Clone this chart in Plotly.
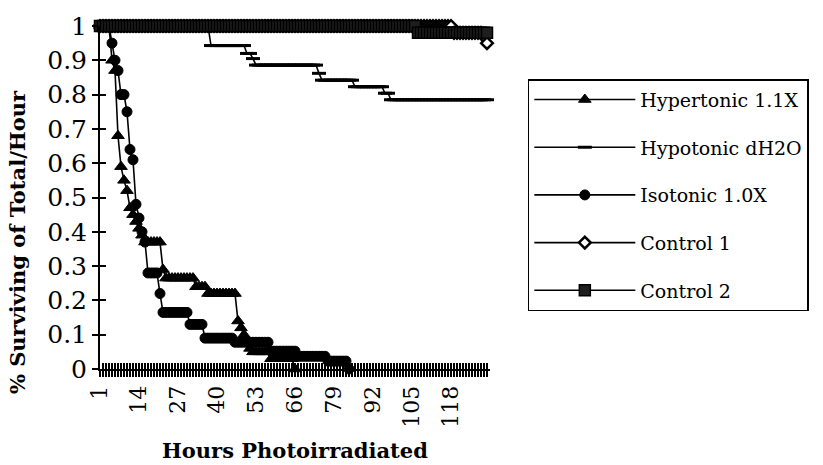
import plotly.graph_objects as go

# ---------------- data ----------------
hours = list(range(1, 131))
x_tick_labels = ["1", "14", "27", "40", "53", "66", "79", "92", "105", "118"]
y_tick_values = [0, 0.1, 0.2, 0.3, 0.4, 0.5, 0.6, 0.7, 0.8, 0.9, 1.0]

hypertonic = [
    1.0, 1.0, 1.0, 1.0, 0.90, 0.87, 0.68, 0.59, 0.55, 0.52,
    0.47, 0.45, 0.43, 0.41, 0.39, 0.37, 0.37, 0.37, 0.37, 0.37,
    0.37, 0.29, 0.265, 0.265, 0.265, 0.265, 0.265, 0.265, 0.265, 0.265,
    0.265, 0.265, 0.24, 0.24, 0.24, 0.24, 0.22, 0.22, 0.22, 0.22,
    0.22, 0.22, 0.22, 0.22, 0.22, 0.22, 0.14, 0.12, 0.10, 0.08,
    0.06, 0.05, 0.05, 0.05, 0.05, 0.05, 0.05, 0.03, 0.03, 0.03,
    0.03, 0.03, 0.03, 0.03, 0.03, 0.0, None, None, None, None,
    None, None, None, None, None, None, None, None, None, None,
    None, None, None, None, None, None, None, None, None, None,
    None, None, None, None, None, None, None, None, None, None,
    None, None, None, None, None, None, None, None, None, None,
    None, None, None, None, None, None, None, None, None, None,
    None, None, None, None, None, None, None, None, None, None,
]

hypotonic = [
    1.0, 1.0, 1.0, 1.0, 1.0, 1.0, 1.0, 1.0, 1.0, 1.0,
    1.0, 1.0, 1.0, 1.0, 1.0, 1.0, 1.0, 1.0, 1.0, 1.0,
    1.0, 1.0, 1.0, 1.0, 1.0, 1.0, 1.0, 1.0, 1.0, 1.0,
    1.0, 1.0, 1.0, 1.0, 1.0, 1.0, 1.0, 0.943, 0.943, 0.943,
    0.943, 0.943, 0.943, 0.943, 0.943, 0.943, 0.943, 0.943, 0.943, 0.92,
    0.92, 0.905, 0.886, 0.886, 0.886, 0.886, 0.886, 0.886, 0.886, 0.886,
    0.886, 0.886, 0.886, 0.886, 0.886, 0.886, 0.886, 0.886, 0.886, 0.886,
    0.886, 0.886, 0.886, 0.862, 0.842, 0.842, 0.842, 0.842, 0.842, 0.842,
    0.842, 0.842, 0.842, 0.842, 0.842, 0.823, 0.823, 0.823, 0.823, 0.823,
    0.823, 0.823, 0.823, 0.823, 0.823, 0.804, 0.804, 0.785, 0.785, 0.785,
    0.785, 0.785, 0.785, 0.785, 0.785, 0.785, 0.785, 0.785, 0.785, 0.785,
    0.785, 0.785, 0.785, 0.785, 0.785, 0.785, 0.785, 0.785, 0.785, 0.785,
    0.785, 0.785, 0.785, 0.785, 0.785, 0.785, 0.785, 0.785, 0.785, 0.785,
]

isotonic = [
    1.0, 1.0, 1.0, 1.0, 0.95, 0.90, 0.87, 0.80, 0.80, 0.75,
    0.64, 0.61, 0.48, 0.44, 0.40, 0.37, 0.28, 0.28, 0.28, 0.28,
    0.22, 0.165, 0.165, 0.165, 0.165, 0.165, 0.165, 0.165, 0.165, 0.165,
    0.13, 0.13, 0.13, 0.13, 0.13, 0.09, 0.09, 0.09, 0.09, 0.09,
    0.09, 0.09, 0.09, 0.09, 0.09, 0.078, 0.078, 0.078, 0.078, 0.078,
    0.078, 0.078, 0.078, 0.078, 0.078, 0.078, 0.078, 0.052, 0.052, 0.052,
    0.052, 0.052, 0.052, 0.052, 0.052, 0.052, 0.037, 0.037, 0.037, 0.037,
    0.037, 0.037, 0.037, 0.037, 0.037, 0.037, 0.023, 0.023, 0.023, 0.023,
    0.023, 0.023, 0.023, 0.0, None, None, None, None, None, None,
    None, None, None, None, None, None, None, None, None, None,
    None, None, None, None, None, None, None, None, None, None,
    None, None, None, None, None, None, None, None, None, None,
    None, None, None, None, None, None, None, None, None, None,
]

control1 = [
    1.0, 1.0, 1.0, 1.0, 1.0, 1.0, 1.0, 1.0, 1.0, 1.0,
    1.0, 1.0, 1.0, 1.0, 1.0, 1.0, 1.0, 1.0, 1.0, 1.0,
    1.0, 1.0, 1.0, 1.0, 1.0, 1.0, 1.0, 1.0, 1.0, 1.0,
    1.0, 1.0, 1.0, 1.0, 1.0, 1.0, 1.0, 1.0, 1.0, 1.0,
    1.0, 1.0, 1.0, 1.0, 1.0, 1.0, 1.0, 1.0, 1.0, 1.0,
    1.0, 1.0, 1.0, 1.0, 1.0, 1.0, 1.0, 1.0, 1.0, 1.0,
    1.0, 1.0, 1.0, 1.0, 1.0, 1.0, 1.0, 1.0, 1.0, 1.0,
    1.0, 1.0, 1.0, 1.0, 1.0, 1.0, 1.0, 1.0, 1.0, 1.0,
    1.0, 1.0, 1.0, 1.0, 1.0, 1.0, 1.0, 1.0, 1.0, 1.0,
    1.0, 1.0, 1.0, 1.0, 1.0, 1.0, 1.0, 1.0, 1.0, 1.0,
    1.0, 1.0, 1.0, 1.0, 1.0, 1.0, 1.0, 1.0, 1.0, 1.0,
    1.0, 1.0, 1.0, 1.0, 1.0, 1.0, 1.0, 1.0, 0.98, 0.98,
    0.98, 0.98, 0.98, 0.98, 0.98, 0.98, 0.98, 0.98, 0.97, 0.95,
]

control2 = [
    1.0, 1.0, 1.0, 1.0, 1.0, 1.0, 1.0, 1.0, 1.0, 1.0,
    1.0, 1.0, 1.0, 1.0, 1.0, 1.0, 1.0, 1.0, 1.0, 1.0,
    1.0, 1.0, 1.0, 1.0, 1.0, 1.0, 1.0, 1.0, 1.0, 1.0,
    1.0, 1.0, 1.0, 1.0, 1.0, 1.0, 1.0, 1.0, 1.0, 1.0,
    1.0, 1.0, 1.0, 1.0, 1.0, 1.0, 1.0, 1.0, 1.0, 1.0,
    1.0, 1.0, 1.0, 1.0, 1.0, 1.0, 1.0, 1.0, 1.0, 1.0,
    1.0, 1.0, 1.0, 1.0, 1.0, 1.0, 1.0, 1.0, 1.0, 1.0,
    1.0, 1.0, 1.0, 1.0, 1.0, 1.0, 1.0, 1.0, 1.0, 1.0,
    1.0, 1.0, 1.0, 1.0, 1.0, 1.0, 1.0, 1.0, 1.0, 1.0,
    1.0, 1.0, 1.0, 1.0, 1.0, 1.0, 1.0, 1.0, 1.0, 1.0,
    1.0, 1.0, 1.0, 1.0, 1.0, 1.0, 0.98, 0.98, 0.98, 0.98,
    0.98, 0.98, 0.98, 0.98, 0.98, 0.98, 0.98, 0.98, 0.98, 0.98,
    0.98, 0.98, 0.98, 0.98, 0.98, 0.98, 0.98, 0.98, 0.98, 0.98,
]

series_names = ["Hypertonic 1.1X", "Hypotonic dH2O", "Isotonic 1.0X", "Control 1", "Control 2"]

# ---------------- figure ----------------
SERIF = "DejaVu Serif"
fig = go.Figure()

styles = [
    dict(symbol="triangle-up", size=11, color="black", line=dict(color="black", width=1)),
    dict(symbol="line-ew", size=10, color="black", line=dict(color="black", width=3)),
    dict(symbol="circle", size=10, color="black", line=dict(color="black", width=1)),
    dict(symbol="diamond", size=9, color="white", line=dict(color="black", width=2.5)),
    dict(symbol="square", size=11, color="#1e1e1e", line=dict(color="black", width=1.5)),
]
for i, (name, ys) in enumerate(zip(series_names, [hypertonic, hypotonic, isotonic, control1, control2])):
    fig.add_trace(go.Scatter(
        x=hours, y=ys, name=name, mode="lines+markers",
        line=dict(color="black", width=1.6),
        marker=styles[i], cliponaxis=False, connectgaps=False,
        legendgroup=f"g{i}",
    ))

# invisible trace to host overlay axes (inside half of the cross tick marks)
fig.add_trace(go.Scatter(x=[None], y=[None], xaxis="x2", yaxis="y2",
                         showlegend=False, hoverinfo="skip"))

x_ticktext = []
for h in hours:
    s = str(h)
    x_ticktext.append(s if s in x_tick_labels else "")

fig.update_layout(
    width=823, height=465,
    margin=dict(l=100, r=333, t=22, b=96),
    paper_bgcolor="white", plot_bgcolor="white",
    font=dict(family=SERIF, color="black", size=19),
    showlegend=True,
    legend=dict(
        x=1.097, y=0.845, xanchor="left", yanchor="top",
        bordercolor="black", borderwidth=1.5, bgcolor="white",
        font=dict(family=SERIF, size=19, color="black"),
        tracegroupgap=20, itemwidth=101,
    ),
    xaxis=dict(
        range=[1, 131], tickmode="array", tickvals=hours, ticktext=x_ticktext,
        tickangle=-90, ticks="outside", ticklen=6, tickwidth=1.5, tickcolor="black",
        showline=True, linecolor="black", linewidth=2, showgrid=False, zeroline=False,
        tickfont=dict(family=SERIF, size=22, color="black"),
    ),
    yaxis=dict(
        range=[0, 1], tickmode="array", tickvals=y_tick_values,
        ticks="outside", ticklen=6, tickwidth=2, tickcolor="black",
        showline=True, linecolor="black", linewidth=2, showgrid=False, zeroline=False,
        tickfont=dict(family=SERIF, size=25, color="black"),
        ticklabelstandoff=0,
    ),
    xaxis2=dict(
        overlaying="x", anchor="y2", side="bottom", range=[1, 131],
        tickmode="array", tickvals=hours, ticks="inside", ticklen=6, tickwidth=1.5,
        tickcolor="black", showticklabels=False, showgrid=False, zeroline=False, showline=False,
    ),
    yaxis2=dict(
        overlaying="y", anchor="x2", side="left", range=[0, 1],
        tickmode="array", tickvals=y_tick_values, ticks="inside", ticklen=6, tickwidth=2,
        tickcolor="black", showticklabels=False, showgrid=False, zeroline=False, showline=False,
    ),
    annotations=[
        dict(text="<b>% Surviving of Total/Hour</b>", xref="paper", yref="paper",
             x=-0.2128, y=0.37, xanchor="center", yanchor="middle", textangle=-90,
             showarrow=False, font=dict(family=SERIF, size=21, color="black")),
        dict(text="<b>Hours Photoirradiated</b>", xref="paper", yref="paper",
             x=0.5, y=-0.239, xanchor="center", yanchor="middle",
             showarrow=False, font=dict(family=SERIF, size=21, color="black")),
    ],
)

fig.write_html("out.html")
